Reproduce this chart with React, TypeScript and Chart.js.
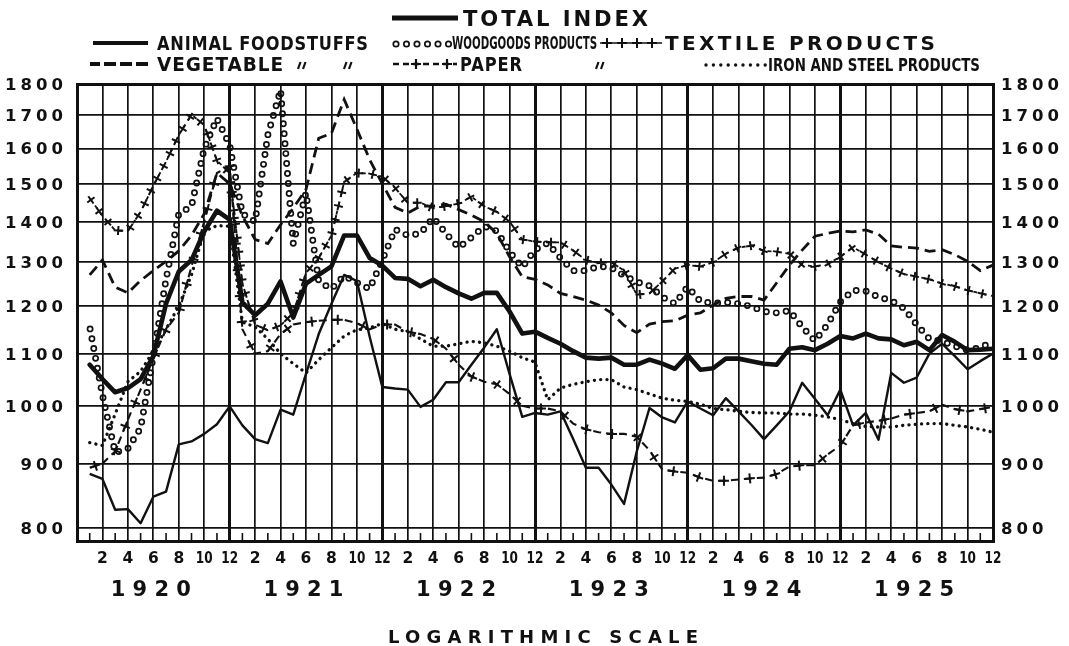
import React, { useEffect, useRef } from "react";
import { Chart, registerables } from "chart.js";

Chart.register(...registerables);

// Months are counted from the Dec-1919 boundary: 1 = Jan 1920 ... 72 = Dec 1925
const YEARS = ["1920", "1921", "1922", "1923", "1924", "1925"];
const MONTH_LABELS = ["2", "4", "6", "8", "10", "12"];
const Y_TICKS = [800, 900, 1000, 1100, 1200, 1300, 1400, 1500, 1600, 1700, 1800];

const TOTAL_INDEX = [
  1078, 1050, 1025, 1033, 1050, 1095, 1205, 1278, 1305, 1375, 1428, 1405,
  1208, 1180, 1205, 1255, 1175, 1250, 1270, 1290, 1365, 1365, 1310, 1292,
  1263, 1261, 1244, 1259, 1242, 1228, 1216, 1229, 1229, 1188, 1141, 1145,
  1132, 1120, 1105, 1092, 1090, 1092, 1078, 1078, 1088, 1080, 1070, 1097,
  1068, 1071, 1090, 1090, 1085, 1080, 1078, 1110, 1113, 1107, 1120, 1136,
  1131, 1141, 1131, 1129, 1117, 1124, 1107, 1138, 1124, 1107, 1108, 1110,
];
const ANIMAL_FOODSTUFFS = [
  883, 875, 827, 828, 807, 847, 855, 932, 937, 950, 967, 999,
  965, 941, 934, 993, 984, 1060, 1140, 1205, 1270, 1256, 1135, 1035,
  1032, 1030, 998, 1011, 1044, 1044, 1078, 1112, 1150, 1060, 980, 987,
  984, 990, 941, 893, 893, 866, 836, 920, 996, 979, 970, 1008,
  995, 983, 1014, 990, 966, 941, 965, 990, 1043, 1013, 983, 1030,
  965, 987, 940, 1062, 1043, 1053, 1100, 1120, 1095, 1069, 1085, 1100,
];
const VEGETABLE_FOODSTUFFS = [
  1270, 1305, 1242, 1229, 1257, 1280, 1302, 1327, 1365, 1420, 1530, 1500,
  1415, 1355, 1345, 1392, 1435, 1485, 1630, 1645, 1750, 1658, 1568, 1500,
  1437, 1422, 1440, 1440, 1445, 1431, 1417, 1400, 1370, 1313, 1266, 1260,
  1247, 1228, 1221, 1213, 1202, 1185, 1158, 1143, 1161, 1166, 1168, 1180,
  1185, 1202, 1217, 1221, 1221, 1213, 1252, 1293, 1329, 1363, 1370, 1376,
  1374, 1379, 1368, 1339, 1336, 1334, 1326, 1330, 1318, 1302, 1280, 1293,
];
const WOODGOODS = [
  1155, 1020, 918, 925, 960, 1095, 1260, 1420, 1440, 1600, 1690, 1610,
  1420, 1400, 1640, 1780, 1345, 1475, 1255, 1238, 1268, 1252, 1238, 1305,
  1380, 1365, 1370, 1410, 1370, 1335, 1360, 1388, 1376, 1325, 1288, 1330,
  1346, 1310, 1280, 1280, 1290, 1287, 1268, 1254, 1245, 1220, 1205, 1243,
  1210, 1206, 1208, 1205, 1199, 1188, 1185, 1190, 1155, 1126, 1160, 1209,
  1235, 1233, 1220, 1212, 1195, 1160, 1130, 1125, 1115, 1107, 1112, 1125,
];
const TEXTILE = [
  1461, 1415, 1378, 1376, 1425, 1495, 1562, 1640, 1702, 1670, 1565, 1530,
  1250, 1160, 1148, 1158, 1185, 1275, 1310, 1365, 1505, 1530, 1528, 1520,
  1489, 1449, 1449, 1435, 1440, 1447, 1465, 1440, 1425, 1400, 1355, 1350,
  1348, 1348, 1328, 1305, 1298, 1300, 1280, 1225, 1228, 1255, 1285, 1293,
  1290, 1300, 1320, 1335, 1340, 1327, 1325, 1320, 1293, 1290, 1295, 1313,
  1336, 1318, 1300, 1285, 1272, 1266, 1260, 1250, 1244, 1235, 1228, 1222,
];
const PAPER = [
  893, 900, 920, 975, 1030, 1090, 1150, 1185, 1290, 1400, 1530, 1550,
  1150, 1100, 1105, 1140, 1160, 1165, 1168, 1170, 1170, 1163, 1150, 1160,
  1160, 1145, 1140, 1130, 1110, 1078, 1055, 1045, 1040, 1022, 1000, 995,
  995, 990, 968, 958, 953, 950, 950, 945, 922, 890, 887, 885,
  877, 872, 872, 874, 876, 877, 883, 895, 897, 897, 915, 930,
  965, 970, 973, 977, 984, 987, 990, 1002, 994, 990, 994, 998,
];
const IRON_STEEL = [
  935, 930, 985, 1045, 1065, 1105, 1150, 1200, 1270, 1375, 1390, 1388,
  1165, 1155, 1130, 1100, 1080, 1062, 1088, 1112, 1136, 1149, 1153, 1162,
  1150, 1145, 1130, 1115, 1115, 1120, 1125, 1122, 1115, 1105, 1092, 1083,
  1011, 1033, 1040, 1045, 1049, 1049, 1035, 1030, 1022, 1014, 1010, 1008,
  1003, 995, 993, 990, 988, 987, 987, 985, 985, 983, 980, 975,
  968, 963, 962, 962, 965, 967, 968, 968, 965, 962, 958, 953,
];

const W = 1069;
const H = 646;
const FONT = '"DejaVu Sans", "Liberation Sans", sans-serif';
const INK = "#111";

const pts = (vals: number[]) => vals.map((v, i) => ({ x: i + 1, y: v }));

function measure(ctx: CanvasRenderingContext2D, text: string, ls: number) {
  (ctx as any).letterSpacing = `${ls}px`;
  const w = ctx.measureText(text).width;
  return Math.max(1, w - (text.length > 0 ? ls : 0));
}

// draws text with cap-height centred on cy, filling [left,right]:
// squeezed horizontally when too wide, letter-spaced when too narrow
function fitText(
  ctx: CanvasRenderingContext2D, text: string, left: number, right: number,
  cy: number, size: number, minLs: number, weight = "bold"
) {
  ctx.save();
  ctx.font = `${weight} ${size}px ${FONT}`;
  const target = right - left;
  let ls = minLs;
  let w = measure(ctx, text, ls);
  let sx = 1;
  if (w > target) {
    sx = target / w;
  } else if (text.length > 1) {
    ls = minLs + (target - w) / (text.length - 1);
    w = measure(ctx, text, ls);
    sx = target / w;
  }
  (ctx as any).letterSpacing = `${ls}px`;
  ctx.translate(left, cy + (size * 0.729) / 2);
  ctx.scale(sx, 1);
  ctx.fillStyle = INK;
  ctx.textAlign = "left";
  ctx.textBaseline = "alphabetic";
  ctx.fillText(text, 0, 0);
  ctx.restore();
}

function plainText(
  ctx: CanvasRenderingContext2D, text: string, x: number, cy: number,
  size: number, ls: number, align: "left" | "right" | "center", sx = 1
) {
  ctx.save();
  ctx.font = `bold ${size}px ${FONT}`;
  const w = measure(ctx, text, ls) * sx;
  (ctx as any).letterSpacing = `${ls}px`;
  let left = x;
  if (align === "right") left = x - w;
  if (align === "center") left = x - w / 2;
  ctx.translate(left, cy + (size * 0.729) / 2);
  ctx.scale(sx, 1);
  ctx.fillStyle = INK;
  ctx.textAlign = "left";
  ctx.textBaseline = "alphabetic";
  ctx.fillText(text, 0, 0);
  ctx.restore();
}

type Marker = { kind: "circle" | "cross"; size: number; lw: number; spacing: number; offset: number };

function drawMarker(ctx: CanvasRenderingContext2D, m: Marker, x: number, y: number, ang: number) {
  ctx.save();
  ctx.strokeStyle = INK;
  ctx.lineWidth = m.lw;
  ctx.setLineDash([]);
  ctx.lineCap = "butt";
  if (m.kind === "circle") {
    ctx.beginPath();
    ctx.arc(x, y, m.size, 0, Math.PI * 2);
    ctx.stroke();
  } else {
    const c = Math.cos(ang), s = Math.sin(ang), a = m.size;
    ctx.beginPath();
    ctx.moveTo(x - c * a, y - s * a);
    ctx.lineTo(x + c * a, y + s * a);
    ctx.moveTo(x + s * a, y - c * a);
    ctx.lineTo(x - s * a, y + c * a);
    ctx.stroke();
  }
  ctx.restore();
}

function placeAlong(
  p: { x: number; y: number }[], spacing: number, offset: number,
  cb: (x: number, y: number, ang: number) => void
) {
  let next = offset;
  let acc = 0;
  for (let i = 0; i < p.length - 1; i++) {
    const a = p[i], b = p[i + 1];
    const dx = b.x - a.x, dy = b.y - a.y;
    const len = Math.hypot(dx, dy);
    if (!len) continue;
    const ang = Math.atan2(dy, dx);
    while (next <= acc + len) {
      const t = (next - acc) / len;
      cb(a.x + dx * t, a.y + dy * t, ang);
      next += spacing;
    }
    acc += len;
  }
}

function line(ctx: CanvasRenderingContext2D, x1: number, y1: number, x2: number, y2: number, lw: number, dash: number[] = [], cap: CanvasLineCap = "butt") {
  ctx.save();
  ctx.strokeStyle = INK;
  ctx.lineWidth = lw;
  ctx.setLineDash(dash);
  ctx.lineCap = cap;
  ctx.beginPath();
  ctx.moveTo(x1, y1);
  ctx.lineTo(x2, y2);
  ctx.stroke();
  ctx.restore();
}

function ditto(ctx: CanvasRenderingContext2D, x: number, y: number) {
  line(ctx, x - 4, y + 4, x - 1.5, y - 3, 2.2);
  line(ctx, x + 1, y + 4, x + 3.5, y - 3, 2.2);
}

const decor = {
  id: "decor",
  beforeDraw(chart: any) {
    const ctx = chart.ctx as CanvasRenderingContext2D;
    ctx.save();
    ctx.fillStyle = "#fff";
    ctx.fillRect(0, 0, chart.width, chart.height);
    ctx.restore();
  },
  afterDatasetsDraw(chart: any) {
    const ctx = chart.ctx as CanvasRenderingContext2D;
    const area = chart.chartArea;
    ctx.save();
    ctx.beginPath();
    ctx.rect(area.left, area.top, area.right - area.left, area.bottom - area.top);
    ctx.clip();
    chart.data.datasets.forEach((ds: any, i: number) => {
      const mk: Marker | undefined = ds.marker;
      if (!mk) return;
      const meta = chart.getDatasetMeta(i);
      const p = meta.data.map((e: any) => ({ x: e.x, y: e.y }));
      placeAlong(p, mk.spacing, mk.offset, (x, y, ang) => drawMarker(ctx, mk, x, y, ang));
    });
    ctx.restore();
  },
  afterDraw(chart: any) {
    const ctx = chart.ctx as CanvasRenderingContext2D;
    const xs = chart.scales.x;
    const ys = chart.scales.y;
    const area = chart.chartArea;

    // y labels (left and right)
    Y_TICKS.forEach((v) => {
      const y = ys.getPixelForValue(v);
      plainText(ctx, String(v), 63, y, 16.5, 4, "right");
      plainText(ctx, String(v), area.right + 8, y, 16.5, 4, "left");
    });

    // small month ticks in the strip below the 800 line
    const y800 = ys.getPixelForValue(800);
    for (let m = 1; m < 72; m += 2) {
      const x = xs.getPixelForValue(m);
      line(ctx, x, area.bottom, x, y800 + 5, 1.6);
    }

    // month labels
    YEARS.forEach((_, yi) => {
      MONTH_LABELS.forEach((lab, j) => {
        const x = xs.getPixelForValue(yi * 12 + (j + 1) * 2);
        plainText(ctx, lab, x, 557, 15.5, 0, "center", lab.length > 1 ? 0.78 : 1);
      });
    });

    // year labels
    YEARS.forEach((yr, yi) => {
      const cx = xs.getPixelForValue(yi * 12 + 5.8);
      fitText(ctx, yr, cx - 40, cx + 40, 588, 21, 4);
    });

    fitText(ctx, "LOGARITHMIC SCALE", 388, 698, 636, 18, 3);

    // ---- legend ----
    line(ctx, 392, 18, 458, 18, 5);
    fitText(ctx, "TOTAL INDEX", 463, 648, 18, 22, 3);

    const r2 = 43;
    line(ctx, 93, r2, 148, r2, 4);
    fitText(ctx, "ANIMAL FOODSTUFFS", 157, 368, r2, 20, 1);
    for (let k = 0; k < 6; k++) {
      drawMarker(ctx, { kind: "circle", size: 2.7, lw: 1.7, spacing: 0, offset: 0 }, 396 + k * 10.5, r2 + 1, 0);
    }
    fitText(ctx, "WOODGOODS PRODUCTS", 452, 597, r2, 17, 0);
    line(ctx, 600, r2, 662, r2, 1.6);
    for (let k = 0; k < 4; k++) {
      drawMarker(ctx, { kind: "cross", size: 5, lw: 2, spacing: 0, offset: 0 }, 607 + k * 15, r2, 0);
    }
    fitText(ctx, "TEXTILE PRODUCTS", 665, 935, r2, 20, 1);

    const r3 = 64;
    [[90, 100], [104, 116], [120, 132], [136, 148]].forEach(([a, b]) => line(ctx, a, r3, b, r3, 4));
    fitText(ctx, "VEGETABLE", 157, 283, r3, 20, 1);
    ditto(ctx, 302, r3 + 1);
    ditto(ctx, 348, r3 + 1);
    line(ctx, 393, r3, 457, r3, 2.4, [6, 4]);
    drawMarker(ctx, { kind: "cross", size: 5, lw: 2.2, spacing: 0, offset: 0 }, 416, r3, 0);
    drawMarker(ctx, { kind: "cross", size: 5, lw: 2.2, spacing: 0, offset: 0 }, 447, r3, 0);
    fitText(ctx, "PAPER", 460, 522, r3, 19, 1);
    ditto(ctx, 600, r3 + 1);
    for (let k = 0; k < 9; k++) {
      ctx.save();
      ctx.fillStyle = INK;
      ctx.beginPath();
      ctx.arc(706 + k * 7.4, r3 + 1, 1.7, 0, Math.PI * 2);
      ctx.fill();
      ctx.restore();
    }
    fitText(ctx, "IRON AND STEEL PRODUCTS", 768, 980, r3, 18, 0);
  },
};

export default function App() {
  const ref = useRef<HTMLCanvasElement | null>(null);

  useEffect(() => {
    if (!ref.current) return;
    const base = {
      pointRadius: 0,
      pointHoverRadius: 0,
      borderColor: INK,
      backgroundColor: INK,
      fill: false,
      tension: 0,
      yAxisID: "y",
    };
    const chart = new Chart(ref.current, {
      type: "line",
      data: {
        datasets: [
          { ...base, label: "Iron and steel products", data: pts(IRON_STEEL), borderWidth: 3.3, borderDash: [0.1, 6.2], borderCapStyle: "round" },
          { ...base, label: "Woodgoods products", data: pts(WOODGOODS), showLine: false, marker: { kind: "circle", size: 2.6, lw: 1.7, spacing: 10, offset: 2 } } as any,
          { ...base, label: "Paper products", data: pts(PAPER), borderWidth: 2.1, borderDash: [8, 5], marker: { kind: "cross", size: 5, lw: 2, spacing: 26, offset: 6 } } as any,
          { ...base, label: "Textile products", data: pts(TEXTILE), borderWidth: 1.8, borderDash: [4, 5], marker: { kind: "cross", size: 4.5, lw: 2, spacing: 14, offset: 2 } } as any,
          { ...base, label: "Vegetable foodstuffs", data: pts(VEGETABLE_FOODSTUFFS), borderWidth: 2.8, borderDash: [11, 6] },
          { ...base, label: "Animal foodstuffs", data: pts(ANIMAL_FOODSTUFFS), borderWidth: 2.4, borderJoinStyle: "round" },
          { ...base, label: "Total index", data: pts(TOTAL_INDEX), borderWidth: 4.6, borderJoinStyle: "round", borderCapStyle: "round" },
        ],
      },
      options: {
        animation: false,
        responsive: false,
        devicePixelRatio: 1,
        events: [],
        layout: { padding: { top: 84, left: 0, right: 0, bottom: 0 } },
        plugins: { legend: { display: false }, title: { display: false }, tooltip: { enabled: false } },
        scales: {
          x: {
            type: "linear",
            min: 0,
            max: 72,
            position: "bottom",
            afterBuildTicks: (s: any) => {
              const t = [];
              for (let i = 0; i <= 72; i += 2) t.push({ value: i });
              s.ticks = t;
            },
            afterFit: (s: any) => { s.height = H - 541; },
            ticks: { display: false },
            grid: {
              color: INK,
              lineWidth: (c: any) => (c.tick && c.tick.value % 12 === 0 ? 3 : 1.7),
              drawTicks: false,
            },
            border: { display: true, color: INK, width: 3 },
          },
          y: {
            type: "logarithmic",
            min: 781.2,
            max: 1800,
            position: "left",
            afterBuildTicks: (s: any) => { s.ticks = Y_TICKS.map((v) => ({ value: v })); },
            afterFit: (s: any) => { s.width = 77; },
            ticks: { display: false },
            grid: {
              color: INK,
              lineWidth: (c: any) => (c.tick && c.tick.value === 1800 ? 3 : 1.7),
              drawTicks: false,
            },
            border: { display: true, color: INK, width: 3 },
          },
          y2: {
            type: "logarithmic",
            display: true,
            min: 781.2,
            max: 1800,
            position: "right",
            afterBuildTicks: (s: any) => { s.ticks = Y_TICKS.map((v) => ({ value: v })); },
            afterFit: (s: any) => { s.width = W - 993; },
            ticks: { display: false },
            grid: { display: false, drawTicks: false },
            border: { display: true, color: INK, width: 3 },
          },
        },
      } as any,
      plugins: [decor as any],
    });
    return () => chart.destroy();
  }, []);

  return (
    <div style={{ position: "absolute", left: 0, top: 0, width: W, height: H, background: "#fff" }}>
      <canvas ref={ref} width={W} height={H} style={{ display: "block" }} />
    </div>
  );
}
